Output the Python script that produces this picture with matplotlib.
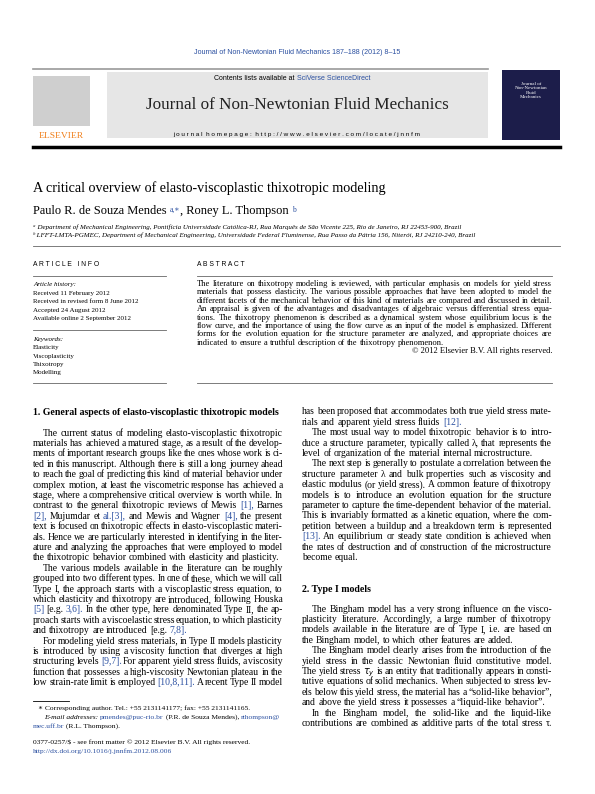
import matplotlib
matplotlib.use("Agg")
import matplotlib.pyplot as plt
from matplotlib.patches import Rectangle

W, H = 595, 794
fig = plt.figure(figsize=(W/100, H/100), dpi=100)
ax = fig.add_axes([0, 0, 1, 1])
ax.set_xlim(0, W); ax.set_ylim(H, 0); ax.axis("off")
R = fig.canvas.get_renderer()
SERIF = ["Liberation Serif", "DejaVu Serif"]
SANS = ["Liberation Sans", "DejaVu Sans"]
BLUE = "#2a4fa0"
BODY = 6.9
ABS = 6.1

journal_ref = "Journal of Non-Newtonian Fluid Mechanics 187–188 (2012) 8–15"
title = "A critical overview of elasto-viscoplastic thixotropic modeling"
affil = ["ᵃ Department of Mechanical Engineering, Pontifícia Universidade Católica-RJ, Rua Marquês de São Vicente 225, Rio de Janeiro, RJ 22453-900, Brazil",
         "ᵇ LFFT-LMTA-PGMEC, Department of Mechanical Engineering, Universidade Federal Fluminense, Rua Passo da Pátria 156, Niterói, RJ 24210-240, Brazil"]
history = ["Received 11 February 2012", "Received in revised form 8 June 2012",
           "Accepted 24 August 2012", "Available online 2 September 2012"]
keywords = ["Elasticity", "Viscoplasticity", "Thixotropy", "Modelling"]
abstract = [
 "The literature on thixotropy modeling is reviewed, with particular emphasis on models for yield stress",
 "materials that possess elasticity. The various possible approaches that have been adopted to model the",
 "different facets of the mechanical behavior of this kind of materials are compared and discussed in detail.",
 "An appraisal is given of the advantages and disadvantages of algebraic versus differential stress equa-",
 "tions. The thixotropy phenomenon is described as a dynamical system whose equilibrium locus is the",
 "flow curve, and the importance of using the flow curve as an input of the model is emphasized. Different",
 "forms for the evolution equation for the structure parameter are analyzed, and appropriate choices are",
 "indicated to ensure a truthful description of the thixotropy phenomenon."]
left_col = [
 ("The current status of modeling elasto-viscoplastic thixotropic", 2),
 ("materials has achieved a matured stage, as a result of the develop-", 1),
 ("ments of important research groups like the ones whose work is ci-", 1),
 ("ted in this manuscript. Although there is still a long journey ahead", 1),
 ("to reach the goal of predicting this kind of material behavior under", 1),
 ("complex motion, at least the viscometric response has achieved a", 1),
 ("stage, where a comprehensive critical overview is worth while. In", 1),
 ("contrast to the general thixotropic reviews of Mewis [1], Barnes", 1),
 ("[2], Mujumdar et al.[3], and Mewis and Wagner [4], the present", 1),
 ("text is focused on thixotropic effects in elasto-viscoplastic materi-", 1),
 ("als. Hence we are particularly interested in identifying in the liter-", 1),
 ("ature and analyzing the approaches that were employed to model", 1),
 ("the thixotropic behavior combined with elasticity and plasticity.", 0),
 ("The various models available in the literature can be roughly", 2),
 ("grouped into two different types. In one of these, which we will call", 1),
 ("Type I, the approach starts with a viscoplastic stress equation, to", 1),
 ("which elasticity and thixotropy are introduced, following Houska", 1),
 ("[5] [e.g. 3,6]. In the other type, here denominated Type II, the ap-", 1),
 ("proach starts with a viscoelastic stress equation, to which plasticity", 1),
 ("and thixotropy are introduced [e.g. 7,8].", 0),
 ("For modeling yield stress materials, in Type II models plasticity", 2),
 ("is introduced by using a viscosity function that diverges at high", 1),
 ("structuring levels [9,7]. For apparent yield stress fluids, a viscosity", 1),
 ("function that possesses a high-viscosity Newtonian plateau in the", 1),
 ("low strain-rate limit is employed [10,8,11]. A recent Type II model", 1),
]
right_col1 = [
 ("has been proposed that accommodates both true yield stress mate-", 1),
 ("rials and apparent yield stress fluids [12].", 0),
 ("The most usual way to model thixotropic behavior is to intro-", 2),
 ("duce a structure parameter, typically called λ, that represents the", 1),
 ("level of organization of the material internal microstructure.", 0),
 ("The next step is generally to postulate a correlation between the", 2),
 ("structure parameter λ and bulk properties such as viscosity and", 1),
 ("elastic modulus (or yield stress). A common feature of thixotropy", 1),
 ("models is to introduce an evolution equation for the structure", 1),
 ("parameter to capture the time-dependent behavior of the material.", 1),
 ("This is invariably formatted as a kinetic equation, where the com-", 1),
 ("petition between a buildup and a breakdown term is represented", 1),
 ("[13]. An equilibrium or steady state condition is achieved when", 1),
 ("the rates of destruction and of construction of the microstructure", 1),
 ("become equal.", 0),
]
right_col2 = [
 ("The Bingham model has a very strong influence on the visco-", 2),
 ("plasticity literature. Accordingly, a large number of thixotropy", 1),
 ("models available in the literature are of Type I, i.e. are based on", 1),
 ("the Bingham model, to which other features are added.", 0),
 ("The Bingham model clearly arises from the introduction of the", 2),
 ("yield stress in the classic Newtonian fluid constitutive model.", 1),
 ("The yield stress $\\tau_y$ is an entity that traditionally appears in consti-", 1),
 ("tutive equations of solid mechanics. When subjected to stress lev-", 1),
 ("els below this yield stress, the material has a “solid-like behavior”,", 1),
 ("and above the yield stress it possesses a “liquid-like behavior”.", 0),
 ("In the Bingham model, the solid-like and the liquid-like", 2),
 ("contributions are combined as additive parts of the total stress τ.", 1),
]

inv = ax.transData.inverted()

def T(x, y, s, size=BODY, fam=SERIF, **kw):
    kw.setdefault("va", "baseline")
    return ax.text(x, y, s, fontsize=size, family=fam, **kw)

def width(a):
    bb = a.get_window_extent(R)
    return inv.transform((bb.x1, 0))[0] - inv.transform((bb.x0, 0))[0]

def run(x, y, parts):
    for s, size, kw in parts:
        a = T(x, y, s, size, **kw)
        x += width(a)
    return x

def justify(x0, x1, y, line, mode, size=BODY):
    if mode == 2:
        x0 += 10
    words = line.split(" ")
    arts = []
    for w in words:
        c = BLUE if ("[" in w or "]" in w) and any(ch.isdigit() for ch in w) else "black"
        arts.append(T(0, y, w, size, color=c))
    widths = [width(a) for a in arts]
    sp = (x1 - x0 - sum(widths)) / max(len(words) - 1, 1)
    if mode == 0 or len(words) == 1:
        sp = size * 0.33
    x = x0
    for a, w in zip(arts, widths):
        a.set_x(x); x += w + sp

# header
T(297, 54, journal_ref, 5.1, SANS, color=BLUE, ha="center")
ax.add_patch(Rectangle((107, 72), 381, 66, color="#e6e6e6", lw=0))
ax.plot([33, 488], [69, 69], color="#999999", lw=1.2)
T(297, 80, "Contents lists available at ", 5.0, SANS, ha="right")
T(297, 80, "SciVerse ScienceDirect", 5.0, SANS, color=BLUE)
T(297, 109, "Journal of Non-Newtonian Fluid Mechanics", 12.3, ["Liberation Serif"], ha="center", color="#222222")
T(297, 136, "j o u r n a l  h o m e p a g e :  h t t p : / / w w w . e l s e v i e r . c o m / l o c a t e / j n n f m", 4.6, SANS, ha="center")
ax.plot([33, 560], [147, 147], color="black", lw=2.5)
ax.add_patch(Rectangle((33, 76), 57, 50, color="#cfcfcf", lw=0))
T(61, 138, "ELSEVIER", 6.8, SERIF, color="#f07f1a", ha="center")
ax.add_patch(Rectangle((502, 70), 58, 70, color="#1c1d4a", lw=0))
T(531, 82, "Journal of\nNon-Newtonian\nFluid\nMechanics", 3.6, SERIF, color="white", ha="center", va="top", linespacing=1.1)

T(33, 192, title, 10.2, ["Liberation Serif"])
run(33, 214, [("Paulo R. de Souza Mendes ", 8.9, {}), ("a,∗", 5.5, dict(color=BLUE, va="bottom")),
              (", Roney L. Thompson ", 8.9, {}), ("b", 5.5, dict(color=BLUE, va="bottom"))])
T(33, 229, affil[0], 5.0, SERIF, style="italic")
T(33, 237, affil[1], 5.0, SERIF, style="italic")
ax.plot([33, 560], [246, 246], color="#666666", lw=0.6)
T(33, 266, "A R T I C L E   I N F O", 4.9, SANS)
T(197, 266, "A B S T R A C T", 4.9, SANS)
ax.plot([33, 166], [276, 276], color="#666666", lw=0.6)
ax.plot([197, 552], [276, 276], color="#666666", lw=0.6)
T(33, 286, "Article history:", 5.0, SERIF, style="italic")
for i, s in enumerate(history):
    T(33, 295 + 8.3 * i, s, 5.0)
ax.plot([33, 166], [330, 330], color="#666666", lw=0.6)
T(33, 341, "Keywords:", 5.0, SERIF, style="italic")
for i, s in enumerate(keywords):
    T(33, 349.5 + 8.1 * i, s, 5.0)
ax.plot([33, 166], [383, 383], color="#666666", lw=0.6)
ax.plot([197, 552], [383, 383], color="#666666", lw=0.6)
for i, s in enumerate(abstract):
    justify(197, 552, 286 + 8.4 * i, s, 1 if i < len(abstract) - 1 else 0, ABS)
T(552, 286 + 8.4 * 8, "© 2012 Elsevier B.V. All rights reserved.", ABS, ha="right")

T(33, 415, "1. General aspects of elasto-viscoplastic thixotropic models", 7.1, SERIF, weight="bold")
for i, (s, m) in enumerate(left_col):
    justify(33, 283, 435.5 + 10.4 * i, s, m)
for i, (s, m) in enumerate(right_col1):
    justify(302, 552, 414.5 + 10.4 * i, s, m)
T(302, 592, "2. Type I models", 7.1, SERIF, weight="bold")
for i, (s, m) in enumerate(right_col2):
    justify(302, 552, 611.5 + 10.4 * i, s, m)

ax.plot([33, 69], [701, 701], color="black", lw=0.6)
FN = 5.4
T(38, 710, "∗ Corresponding author. Tel.: +55 2131141177; fax: +55 2131141165.", FN)
run(44, 719, [("E-mail addresses: ", FN, dict(style="italic")), ("pmendes@puc-rio.br", FN, dict(color=BLUE)),
              (" (P.R. de Souza Mendes), ", FN, {}), ("rthompson@", FN, dict(color=BLUE))])
run(33, 728, [("mec.uff.br", FN, dict(color=BLUE)), (" (R.L. Thompson).", FN, {})])
T(33, 744, "0377-0257/$ - see front matter © 2012 Elsevier B.V. All rights reserved.", FN)
T(33, 753, "http://dx.doi.org/10.1016/j.jnnfm.2012.08.006", FN, color=BLUE)

fig.savefig("out.png", dpi=100)
